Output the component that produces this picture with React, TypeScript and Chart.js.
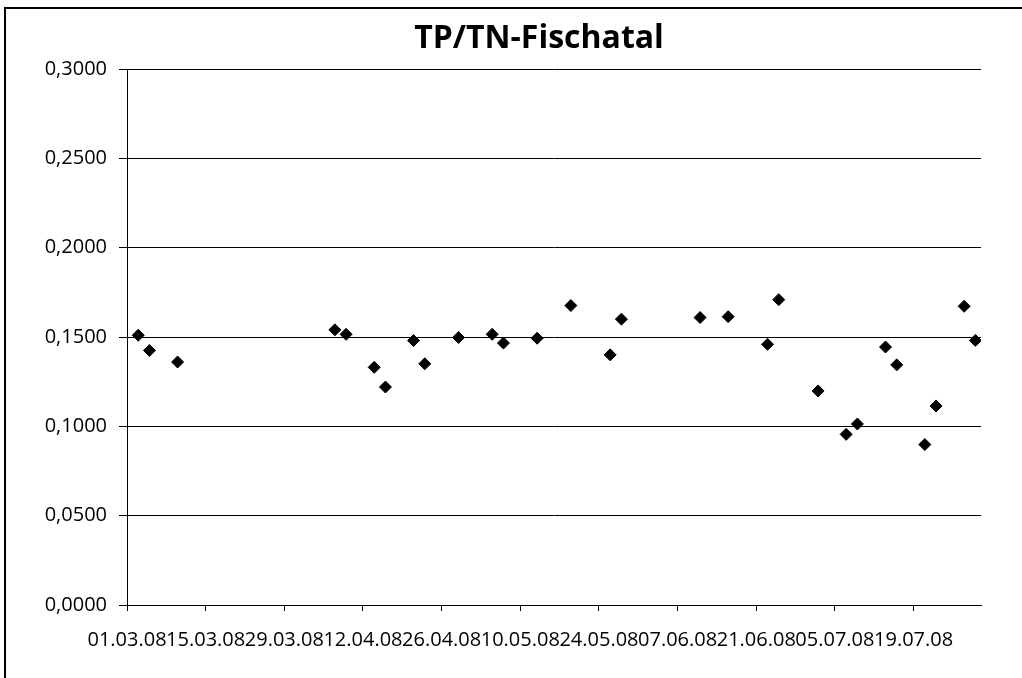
import React, { useEffect, useRef } from "react";
import { Chart, registerables } from "chart.js";

Chart.register(...registerables);

const chartTitle = "TP/TN-Fischatal";
const startDate = "01.03.08";
const endDate = "31.07.08";
const sampleDates = [
  "03.03.08", "05.03.08", "10.03.08", "07.04.08", "09.04.08", "14.04.08",
  "16.04.08", "21.04.08", "23.04.08", "29.04.08", "05.05.08", "07.05.08",
  "13.05.08", "19.05.08", "26.05.08", "28.05.08", "11.06.08", "16.06.08",
  "23.06.08", "25.06.08", "02.07.08", "07.07.08", "09.07.08", "14.07.08",
  "16.07.08", "21.07.08", "23.07.08", "28.07.08", "30.07.08",
];
const tpTnValues = [
  0.151, 0.1425, 0.136, 0.154, 0.1515, 0.133,
  0.122, 0.148, 0.135, 0.1497, 0.1515, 0.1466,
  0.1493, 0.1676, 0.140, 0.160, 0.1609, 0.1614,
  0.1459, 0.1709, 0.1198, 0.0955, 0.1013, 0.1444,
  0.1344, 0.0898, 0.1114, 0.1672, 0.1481,
];
const yMin = 0;
const yMax = 0.3;
const yStep = 0.05;
const xStepDays = 14;

const DAY = 86400000;
function parseDate(s: string): number {
  const [d, m, y] = s.split(".").map(Number);
  return Date.UTC(2000 + y, m - 1, d);
}
const origin = parseDate(startDate);
function toDay(s: string): number {
  return Math.round((parseDate(s) - origin) / DAY);
}
function dayLabel(v: number): string {
  const dt = new Date(origin + v * DAY);
  const dd = String(dt.getUTCDate()).padStart(2, "0");
  const mm = String(dt.getUTCMonth() + 1).padStart(2, "0");
  const yy = String(dt.getUTCFullYear() % 100).padStart(2, "0");
  return `${dd}.${mm}.${yy}`;
}

const FONT = "'Open Sans', sans-serif";

export default function App() {
  const ref = useRef<HTMLCanvasElement | null>(null);
  useEffect(() => {
    if (!ref.current) return;
    const points = sampleDates.map((d, i) => ({ x: toDay(d), y: tpTnValues[i] }));
    const chart = new Chart(ref.current, {
      type: "scatter",
      data: {
        datasets: [
          {
            data: points,
            pointStyle: "rectRot",
            pointRadius: 6,
            pointHoverRadius: 6,
            backgroundColor: "#000",
            borderColor: "#000",
            borderWidth: 1,
            showLine: false,
          },
        ],
      },
      options: {
        animation: false,
        responsive: false,
        events: [],
        layout: { padding: { left: 30, right: 41, top: 69, bottom: 0 } },
        plugins: {
          legend: { display: false },
          tooltip: { enabled: false },
          title: { display: false },
        },
        scales: {
          x: {
            type: "linear",
            min: 0,
            max: toDay(endDate),
            afterFit: (s: any) => {
              s.height = 73;
            },
            border: { color: "#000", width: 1 },
            grid: {
              drawOnChartArea: false,
              drawTicks: true,
              tickLength: 6,
              color: "#000",
            },
            ticks: {
              stepSize: xStepDays,
              includeBounds: false,
              autoSkip: false,
              maxRotation: 0,
              minRotation: 0,
              padding: 17,
              color: "#000",
              font: { family: FONT, size: 20 },
              callback: (v: any) => dayLabel(Number(v)),
            },
          },
          y: {
            type: "linear",
            min: yMin,
            max: yMax,
            afterFit: (s: any) => {
              s.width = 97;
            },
            border: { color: "#000", width: 1 },
            grid: {
              color: "#000",
              lineWidth: 1,
              drawTicks: true,
              tickLength: 8,
            },
            ticks: {
              stepSize: yStep,
              padding: 12,
              color: "#000",
              font: { family: FONT, size: 20 },
              callback: (v: any) => Number(v).toFixed(4).replace(".", ","),
            },
          },
        },
      },
    });
    return () => chart.destroy();
  }, []);

  return (
    <div style={{ position: "absolute", left: 0, top: 0, width: 1022, height: 678, background: "#fff", overflow: "hidden" }}>
      <canvas ref={ref} width={1022} height={678} style={{ position: "absolute", left: 0, top: 0 }} />
      <div
        style={{
          position: "absolute",
          left: 539 - 250,
          width: 500,
          top: 14,
          textAlign: "center",
          fontFamily: FONT,
          fontWeight: 700,
          fontSize: 32,
          lineHeight: "44px",
          color: "#000",
        }}
      >
        {chartTitle}
      </div>
      <div style={{ position: "absolute", left: 4, top: 7, right: 0, height: 2, background: "#000" }} />
      <div style={{ position: "absolute", left: 4, top: 7, width: 2, bottom: 0, background: "#000" }} />
    </div>
  );
}
